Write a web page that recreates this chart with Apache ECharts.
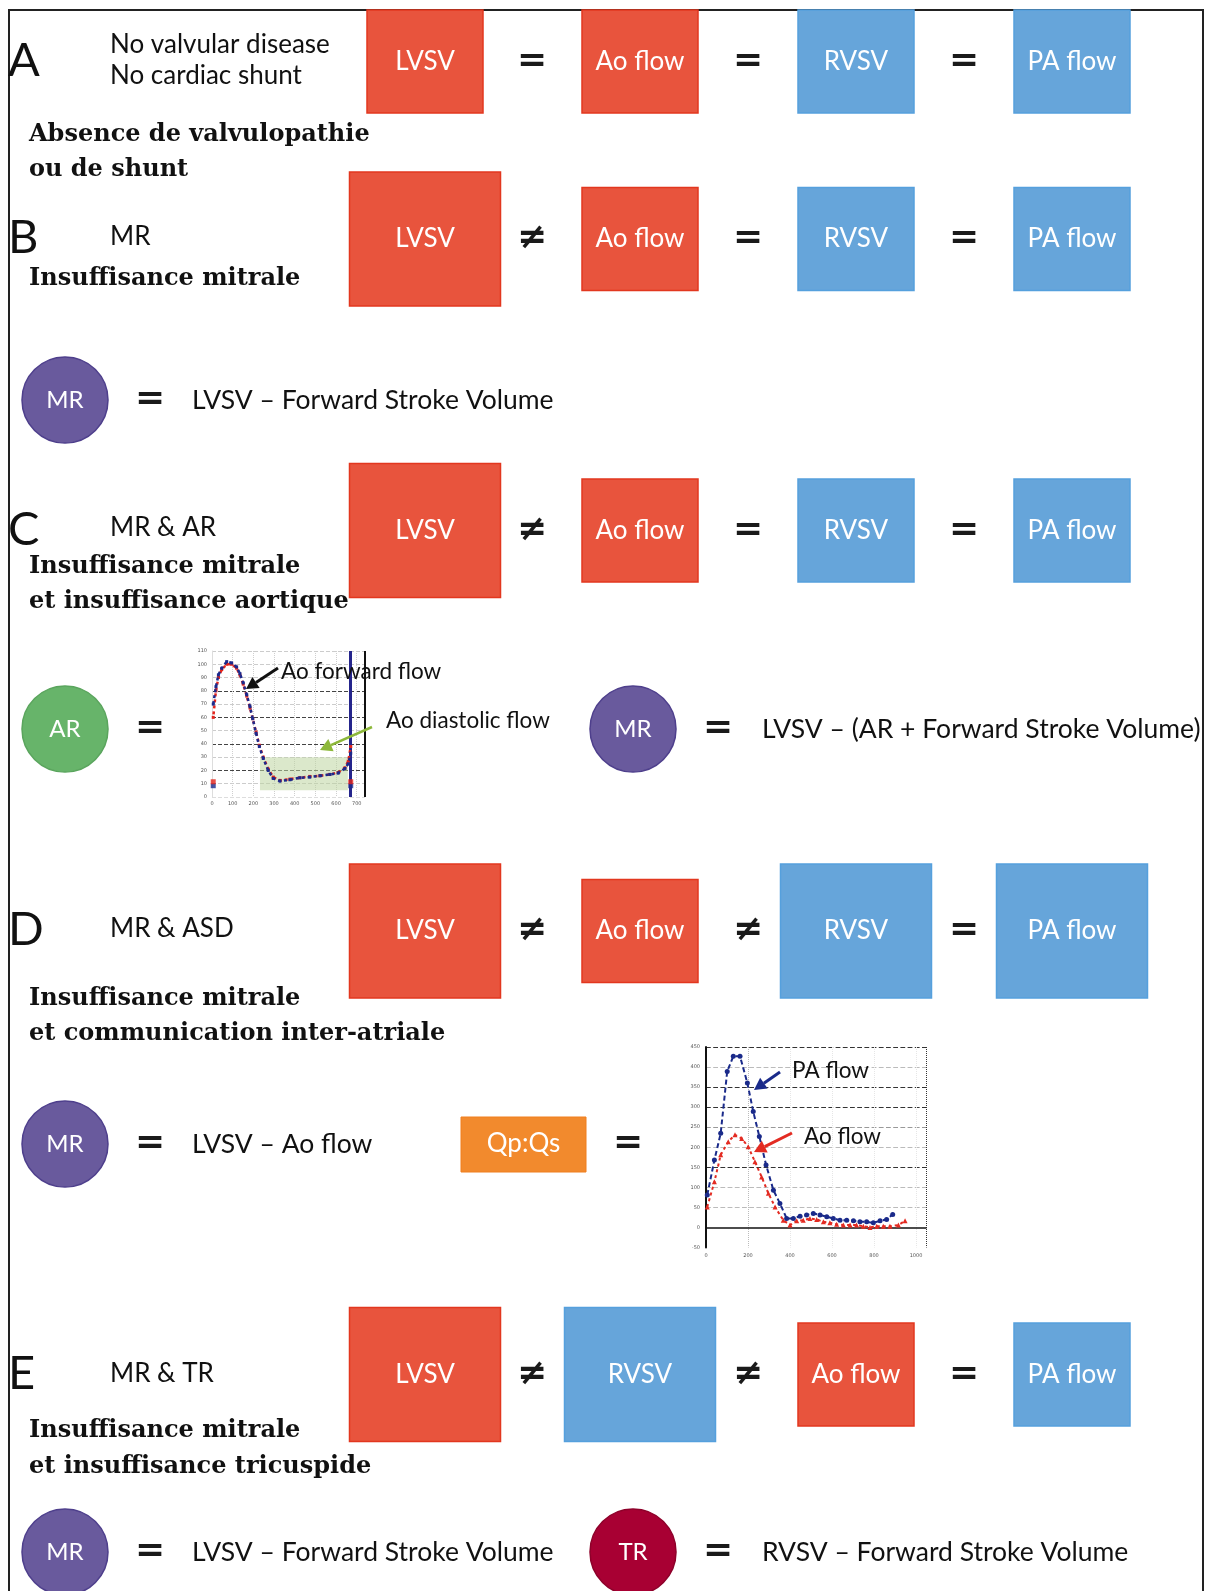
<!DOCTYPE html>
<html><head><meta charset="utf-8">
<script src="https://cdn.jsdelivr.net/npm/echarts@6/dist/echarts.min.js"></script>
<style>html,body{margin:0;padding:0;background:#fff;} #c{width:1208px;height:1591px;}</style>
</head><body><div id="c"></div>
<script>
// ---------- DATA ----------
const rowLetters = ['A', 'B', 'C', 'D', 'E'];
const rowConditions = [['No valvular disease', 'No cardiac shunt'], ['MR'], ['MR & AR'], ['MR & ASD'], ['MR & TR']];
const rowFrench = [
  ['Absence de valvulopathie', 'ou de shunt'],
  ['Insuffisance mitrale'],
  ['Insuffisance mitrale', 'et insuffisance aortique'],
  ['Insuffisance mitrale', 'et communication inter-atriale'],
  ['Insuffisance mitrale', 'et insuffisance tricuspide']
];
const rowBoxes = [
  ['LVSV', 'Ao flow', 'RVSV', 'PA flow'],
  ['LVSV', 'Ao flow', 'RVSV', 'PA flow'],
  ['LVSV', 'Ao flow', 'RVSV', 'PA flow'],
  ['LVSV', 'Ao flow', 'RVSV', 'PA flow'],
  ['LVSV', 'RVSV', 'Ao flow', 'PA flow']
];
const rowBoxLarge = [
  [false, false, false, false],
  [true, false, false, false],
  [true, false, false, false],
  [true, false, true, true],
  [true, true, false, false]
];
const rowOperators = [['=', '=', '='], ['≠', '=', '='], ['≠', '=', '='], ['≠', '≠', '='], ['≠', '≠', '=']];
const formulaB = { circle: 'MR', text: 'LVSV – Forward Stroke Volume' };
const formulaC = [{ circle: 'AR' }, { circle: 'MR', text: 'LVSV – (AR + Forward Stroke Volume)' }];
const formulaD = [{ circle: 'MR', text: 'LVSV – Ao flow' }, { box: 'Qp:Qs' }];
const formulaE = [{ circle: 'MR', text: 'LVSV – Forward Stroke Volume' }, { circle: 'TR', text: 'RVSV – Forward Stroke Volume' }];
const annotC = ['Ao forward flow', 'Ao diastolic flow'];
const annotD = ['PA flow', 'Ao flow'];

// Mini chart C (aortic flow, ml/s vs ms)
const cTimes = [6, 19, 31, 47, 71, 95, 119, 135, 151, 168, 184, 197, 213, 229, 248, 272, 296, 329, 377, 425, 473, 522, 570, 610, 643, 659, 671];
const cBlue  = [70, 83, 92, 97, 102, 101, 98, 93, 86, 77, 68, 59, 48, 38, 29, 20, 14, 12, 13, 14.5, 15, 16, 17, 18, 21.5, 25, 33];
const cRed   = [60, 80, 90, 96, 100, 100, 97, 92, 85, 76, 67, 59, 49, 39, 30, 21, 15, 12.5, 13.5, 14.5, 15.5, 16, 17, 18.5, 22, 27, 38];
const cMarkTimes = [6, 671];
const cMarkBlue = [8.5, 8.5];
const cMarkRed = [11.5, 11.5];
// Mini chart D (PA and Ao flow)
const dPaTimes = [6, 40, 70, 101, 130, 162, 197, 225, 254, 286, 321, 352, 384, 416, 448, 479, 511, 543, 575, 606, 638, 670, 702, 733, 765, 797, 829, 860, 889];
const dPaFlow  = [81, 168, 235, 389, 427, 427, 360, 289, 227, 156, 93, 60, 22.5, 22.5, 28, 31, 35, 31, 26.5, 22.5, 18, 18, 16.5, 14, 14, 11.5, 16.5, 20, 32.5];
const dAoTimes = [6, 40, 70, 106, 138, 170, 201, 233, 265, 297, 329, 368, 400, 432, 463, 495, 527, 559, 590, 622, 654, 686, 717, 749, 781, 813, 844, 876, 916, 948];
const dAoFlow  = [51, 114, 181, 214, 231, 222, 201, 164, 126, 85, 51, 18, 6, 16.5, 18, 22.5, 20, 14, 11.5, 8, 6, 6, 6, 3, 0, 3, 3, 3, 6, 16.5];

// ---------- STYLE / LAYOUT ----------
const SANS = 'Lato';
const SERIF = 'DejaVu Serif';
const RED = '#E8543D', RED_B = '#E2371F';
const BLUE = '#66A5DA', BLUE_B = '#55A0DD';
const circleColors = { MR: ['#695A9D', '#4E3F8C'], AR: ['#67B46A', '#5AA55D'], TR: ['#A80033', '#8E002A'] };
const colX = [425, 640, 856, 1072];
const opX = [532, 748, 964];
const rowY = [61.5, 239, 530.5, 931, 1374.5];
const condY = [[45, 76], [237], [528], [929], [1374]];
const frY = [[135, 170], [279], [567, 602], [999, 1034], [1431, 1467]];

const G = [];
function txt(s, x, y, o) {
  o = o || {};
  G.push({ type: 'text', z: o.z || 110, style: {
    text: s, x: x, y: y, fill: o.fill || '#111', fontSize: o.size || 25,
    fontFamily: o.family || SANS, fontWeight: o.weight || 'normal',
    align: o.align || 'left', verticalAlign: 'middle' } });
}
function box(label, cx, cy, large) {
  const w = large ? 151 : 116, h = large ? 134 : 103;
  const isRed = (label === 'LVSV' || label === 'Ao flow');
  G.push({ type: 'rect', z: 100, shape: { x: cx - w / 2, y: cy - h / 2, width: w, height: h },
    style: { fill: isRed ? RED : BLUE, stroke: isRed ? RED_B : BLUE_B, lineWidth: 1.5 } });
  txt(label, cx, cy, { fill: '#fff', size: 26, align: 'center' });
}
function circ(name, cx, cy) {
  const c = circleColors[name];
  G.push({ type: 'circle', z: 100, shape: { cx: cx, cy: cy, r: 43 }, style: { fill: c[0], stroke: c[1], lineWidth: 1.5 } });
  txt(name, cx, cy, { fill: '#fff', size: 24, align: 'center' });
}
function op(s, x, y) {
  txt(s, x, y, { size: 36, family: 'DejaVu Sans', weight: 'bold', align: 'center', fill: '#1a1a1a' });
}
function arrow(x1, y1, x2, y2, color, w, hl) {
  const a = Math.atan2(y2 - y1, x2 - x1), hw = hl * 0.55;
  const bx = x2 - hl * Math.cos(a), by = y2 - hl * Math.sin(a);
  const px = -Math.sin(a) * hw, py = Math.cos(a) * hw;
  G.push({ type: 'line', z: 120, shape: { x1: x1, y1: y1, x2: bx, y2: by }, style: { stroke: color, lineWidth: w } });
  G.push({ type: 'polygon', z: 120, shape: { points: [[x2, y2], [bx + px, by + py], [bx - px, by - py]] }, style: { fill: color } });
}

// frame
G.push({ type: 'polyline', z: 90, shape: { points: [[9, 1595], [9, 10], [1203, 10], [1203, 1595]] }, style: { stroke: '#222', lineWidth: 2, fill: null } });

rowLetters.forEach((L, i) => {
  txt(L, 8, rowY[i] - 1, { size: 47 });
  rowConditions[i].forEach((s, j) => txt(s, 110, condY[i][j], { size: 26 }));
  rowFrench[i].forEach((s, j) => txt(s, 29, frY[i][j], { size: 24, family: SERIF, weight: 'bold' }));
  rowBoxes[i].forEach((b, j) => box(b, colX[j], rowY[i], rowBoxLarge[i][j]));
  rowOperators[i].forEach((o, j) => op(o, opX[j], rowY[i]));
});

const FS = 26.5;
// formula B
circ(formulaB.circle, 65, 400); op('=', 150, 400); txt(formulaB.text, 192, 400, { size: FS });
// formula C
circ(formulaC[0].circle, 65, 729); op('=', 150, 729);
circ(formulaC[1].circle, 633, 729); op('=', 718, 729); txt(formulaC[1].text, 762, 729, { size: FS });
txt(annotC[0], 281, 672, { size: 22.5 });
txt(annotC[1], 386, 721, { size: 22.5 });
arrow(278, 668, 246, 689, '#111', 3, 12);
arrow(372, 727, 320, 750, '#8DB83A', 2.5, 12);
// formula D
circ(formulaD[0].circle, 65, 1144); op('=', 150, 1144); txt(formulaD[0].text, 192, 1144, { size: FS });
G.push({ type: 'rect', z: 100, shape: { x: 461, y: 1117, width: 125, height: 55 }, style: { fill: '#F28A2D', stroke: '#F07F1E', lineWidth: 1 } });
txt(formulaD[1].box, 523.5, 1144, { fill: '#fff', size: 26, align: 'center' });
op('=', 628, 1144);
txt(annotD[0], 792, 1071, { size: 22.5 });
txt(annotD[1], 804, 1137, { size: 22.5 });
arrow(780, 1072, 754, 1090, '#1a2a8a', 3, 12);
arrow(792, 1133, 754, 1152, '#e32b22', 3, 12);
// formula E
circ(formulaE[0].circle, 65, 1552); op('=', 150, 1552); txt(formulaE[0].text, 192, 1552, { size: FS });
circ(formulaE[1].circle, 633, 1552); op('=', 718, 1552); txt(formulaE[1].text, 762, 1552, { size: FS });

const pairs = (xs, ys) => xs.map((x, i) => [x, ys[i]]);
const tiny = { fontSize: 5, color: '#555', fontFamily: 'DejaVu Sans' };

const option = {
  animation: false,
  backgroundColor: '#fff',
  graphic: G,
  grid: [
    { left: 212, top: 651, width: 153, height: 146 },
    { left: 706, top: 1047, width: 220.5, height: 200.5 }
  ],
  xAxis: [
    { gridIndex: 0, type: 'value', min: 0, max: 740, interval: 100,
      axisLine: { show: false }, axisTick: { show: false },
      axisLabel: Object.assign({ margin: 4 }, tiny),
      splitLine: { show: true, lineStyle: { color: '#cfcfcf', type: 'dotted', width: 1 } } },
    { gridIndex: 1, type: 'value', min: 0, max: 1050, interval: 200,
      axisLine: { show: false }, axisTick: { show: false },
      axisLabel: Object.assign({ margin: 6, formatter: v => (v > 1000 ? '' : v) }, tiny),
      splitLine: { show: true, lineStyle: { color: ['#bbb', '#bbb', '#e6e6e6', '#e6e6e6', '#e6e6e6', '#e6e6e6', '#333'], type: 'dotted', width: 1 } } }
  ],
  yAxis: [
    { gridIndex: 0, type: 'value', min: 0, max: 110, interval: 10,
      axisLine: { show: true, lineStyle: { color: '#ddd' } }, axisTick: { show: false },
      axisLabel: Object.assign({ margin: 5 }, tiny),
      splitLine: { show: true, lineStyle: { color: ['#ddd', '#ccc', '#444', '#ccc', '#444', '#ccc', '#444', '#ccc', '#444', '#ccc', '#ccc', '#ccc'], type: 'dashed', width: 1 } } },
    { gridIndex: 1, type: 'value', min: -50, max: 450, interval: 50,
      axisLine: { show: true, lineStyle: { color: '#111', width: 2 } }, axisTick: { show: false },
      axisLabel: Object.assign({ margin: 6 }, tiny),
      splitLine: { show: true, lineStyle: { color: ['#fff', '#fff', '#bbb', '#bbb', '#333', '#bbb', '#999', '#333', '#333', '#bbb', '#333'], type: 'dashed', width: 1.2 } } }
  ],
  series: [
    { type: 'line', xAxisIndex: 0, yAxisIndex: 0, data: pairs(cTimes, cRed), z: 5,
      symbol: 'rect', symbolSize: 3, itemStyle: { color: '#e3241c' },
      lineStyle: { color: '#e3241c', width: 2.5, type: [3, 3], dashOffset: 3 },
      markArea: { silent: true, itemStyle: { color: 'rgba(190,214,160,0.55)' },
        data: [[{ xAxis: 232, yAxis: 5 }, { xAxis: 657, yAxis: 30 }]] } },
    { type: 'line', xAxisIndex: 0, yAxisIndex: 0, data: pairs(cTimes, cBlue), z: 6,
      symbol: 'rect', symbolSize: 3, itemStyle: { color: '#1c2a8c' },
      lineStyle: { color: '#1c2a8c', width: 2.5, type: [3, 3] },
      markLine: { silent: true, symbol: 'none', label: { show: false },
        data: [{ xAxis: 671, lineStyle: { color: '#25258c', width: 3, type: 'solid' } },
               { xAxis: 740, lineStyle: { color: '#111', width: 2, type: 'solid' } }] } },
    { type: 'scatter', xAxisIndex: 0, yAxisIndex: 0, data: pairs(cMarkTimes, cMarkBlue), symbol: 'rect', symbolSize: [5, 5], itemStyle: { color: '#1c2a8c' }, z: 7 },
    { type: 'scatter', xAxisIndex: 0, yAxisIndex: 0, data: pairs(cMarkTimes, cMarkRed), symbol: 'rect', symbolSize: [5, 5], itemStyle: { color: '#e3241c' }, z: 7 },
    { type: 'line', xAxisIndex: 1, yAxisIndex: 1, data: pairs(dPaTimes, dPaFlow), z: 6,
      symbol: 'circle', symbolSize: 5, itemStyle: { color: '#1a2a8a' },
      lineStyle: { color: '#1a2a8a', width: 2, type: [5, 3] },
      markLine: { silent: true, symbol: 'none', label: { show: false },
        data: [{ yAxis: 0, lineStyle: { color: '#111', width: 1.5, type: 'solid' } }] } },
    { type: 'line', xAxisIndex: 1, yAxisIndex: 1, data: pairs(dAoTimes, dAoFlow), z: 5,
      symbol: 'triangle', symbolSize: 5, itemStyle: { color: '#e32b22' },
      lineStyle: { color: '#e32b22', width: 2, type: [3, 3] } }
  ]
};
const chart = echarts.init(document.getElementById('c'));
chart.setOption(option);
</script></body></html>
